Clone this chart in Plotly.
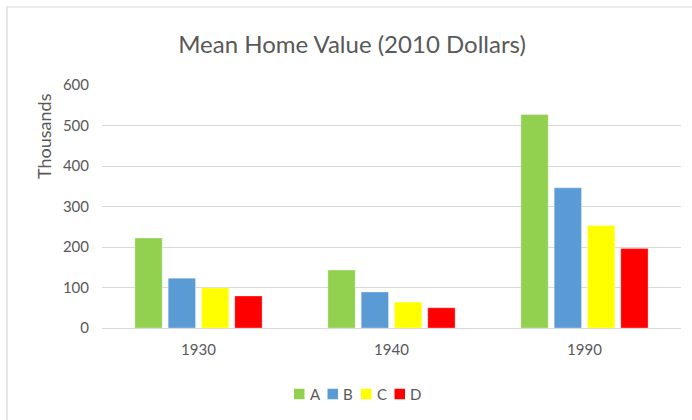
import plotly.graph_objects as go

categories = ["1930", "1940", "1990"]
series_names = ["A", "B", "C", "D"]
values_A = [222, 143, 527]
values_B = [123, 89, 346]
values_C = [99, 64, 253]
values_D = [79, 50, 196]
colors = ["#92D050", "#5B9BD5", "#FFFF00", "#FF0000"]
y_ticks = [0, 100, 200, 300, 400, 500, 600]

FONT = "Lato"
GRAY = "#595959"

# plot area in pixels
L, R, T, B = 102, 681, 85, 328
PW, PH = R - L, B - T


def px_x(px):
    return (px - L) / PW


def px_y(py):
    return (B - py) / PH


fig = go.Figure()
for name, vals, col in zip(series_names, [values_A, values_B, values_C, values_D], colors):
    fig.add_trace(go.Bar(x=categories, y=vals, name=name, showlegend=False,
                         marker=dict(color=col, line=dict(color="rgba(255,255,255,0.6)", width=0.5))))

fig.update_layout(
    width=692, height=420,
    margin=dict(l=L, r=692 - R, t=T, b=420 - B),
    paper_bgcolor="white", plot_bgcolor="white",
    barmode="group", bargap=0.31, bargroupgap=0.18,
    font=dict(family=FONT, color=GRAY, size=15),
    title=dict(text="Mean Home Value (2010 Dollars)", x=352 / 692, xref="container", xanchor="center",
               y=1 - 45 / 420, yref="container", yanchor="middle",
               font=dict(family=FONT, size=24, color=GRAY)),
    xaxis=dict(showline=True, linecolor="#D9D9D9", linewidth=1, ticks="", showgrid=False,
               ticklabelstandoff=8, tickfont=dict(size=15, color=GRAY)),
    yaxis=dict(range=[0, 600], tickvals=y_ticks, showgrid=True, gridcolor="#D9D9D9", gridwidth=1,
               zeroline=False, showline=False, ticks="", ticklabelstandoff=12,
               tickfont=dict(size=15, color=GRAY)),
    showlegend=False,
)

fig.add_annotation(text="Thousands", textangle=-90, xref="paper", yref="paper",
                   x=px_x(44), y=px_y(136), showarrow=False,
                   font=dict(family=FONT, size=18, color=GRAY), xanchor="center", yanchor="middle")

# chart border
fig.add_shape(type="rect", xref="paper", yref="paper",
              x0=px_x(7), x1=px_x(705), y0=px_y(435), y1=px_y(7),
              line=dict(color="#D9D9D9", width=1.2), fillcolor="rgba(0,0,0,0)", layer="below")

# legend (squares + labels)
leg_x0, leg_pitch, leg_y, sq = 294, 33.5, 394, 10.5
for i, (name, col) in enumerate(zip(series_names, colors)):
    x0 = leg_x0 + i * leg_pitch
    fig.add_shape(type="rect", xref="paper", yref="paper",
                  x0=px_x(x0), x1=px_x(x0 + sq), y0=px_y(leg_y + sq / 2), y1=px_y(leg_y - sq / 2),
                  line=dict(width=0), fillcolor=col)
    fig.add_annotation(text=name, xref="paper", yref="paper", x=px_x(x0 + sq + 3), y=px_y(leg_y),
                       xanchor="left", yanchor="middle", showarrow=False,
                       font=dict(family=FONT, size=15, color=GRAY))

fig.write_html("out.html", config={"displayModeBar": False},
               post_script="document.body.style.margin='0px';")
